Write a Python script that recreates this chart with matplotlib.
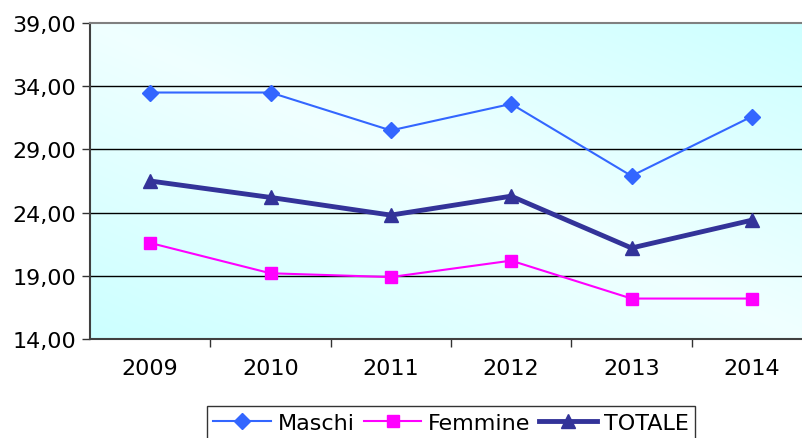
import numpy as np
import matplotlib
matplotlib.use("Agg")
import matplotlib.pyplot as plt
from matplotlib.ticker import FuncFormatter

anni = ['2009', '2010', '2011', '2012', '2013', '2014']
maschi = [33.5, 33.5, 30.5, 32.6, 26.9, 31.6]
femmine = [21.6, 19.2, 18.9, 20.2, 17.2, 17.2]
totale = [26.5, 25.2, 23.8, 25.3, 21.2, 23.4]
y_ticks = [14, 19, 24, 29, 34, 39]

plt.rcParams['font.family'] = ['DejaVu Sans']

fig = plt.figure(figsize=(8.02, 4.39), dpi=100)
ax = fig.add_axes([90 / 802, 99 / 439, 722 / 802, 316 / 439])

# sfondo sfumato azzurro
gx, gy = np.meshgrid(np.linspace(0, 1, 300), np.linspace(1, 0, 200))
d = np.clip(np.abs(gx + gy - 1), 0, 1)
light = np.array([0.94, 1.0, 1.0])
cyan = np.array([0.80, 1.0, 1.0])
img = light[None, None, :] * (1 - d[..., None]) + cyan[None, None, :] * d[..., None]
ax.imshow(img, extent=[0, 1, 0, 1], transform=ax.transAxes, aspect='auto', zorder=0)

x = np.arange(len(anni))
ax.plot(x, maschi, color='#3366ff', lw=1.5, marker='D', ms=8, label='Maschi', zorder=3)
ax.plot(x, femmine, color='#ff00ff', lw=1.5, marker='s', ms=8, label='Femmine', zorder=3)
ax.plot(x, totale, color='#333399', lw=3.5, marker='^', ms=10, label='TOTALE', zorder=4)

for v in y_ticks[1:-1]:
    ax.axhline(v, color='black', lw=1, zorder=1)

ax.set_xlim(-0.5, len(anni) - 0.5)
ax.set_ylim(14, 39)
ax.set_yticks(y_ticks)
ax.yaxis.set_major_formatter(FuncFormatter(lambda v, p: f"{v:.2f}".replace('.', ',')))
ax.set_xticks(x)
ax.set_xticklabels(anni)
ax.set_xticks(np.arange(0.5, len(anni) - 1, 1), minor=True)
ax.tick_params(axis='x', which='major', length=0, pad=14, labelsize=16)
ax.tick_params(axis='x', which='minor', length=6, width=1, color='#333333')
ax.tick_params(axis='y', length=6, width=1, color='#333333', labelsize=16, pad=4)

ax.spines['left'].set_color('#404040')
ax.spines['left'].set_linewidth(1.5)
ax.spines['bottom'].set_color('#404040')
ax.spines['bottom'].set_linewidth(1.5)
ax.spines['top'].set_color('#808080')
ax.spines['top'].set_linewidth(1.5)
ax.spines['right'].set_visible(False)

leg = fig.legend(loc='upper center', bbox_to_anchor=(451 / 802, 1 - 407 / 439), ncol=3,
                 fontsize=16, frameon=True, fancybox=False, edgecolor='black',
                 handlelength=2.6, handletextpad=0.3, columnspacing=0.4,
                 borderpad=0.3, borderaxespad=0)
leg.get_frame().set_linewidth(1)

fig.savefig('out.png', dpi=100)
